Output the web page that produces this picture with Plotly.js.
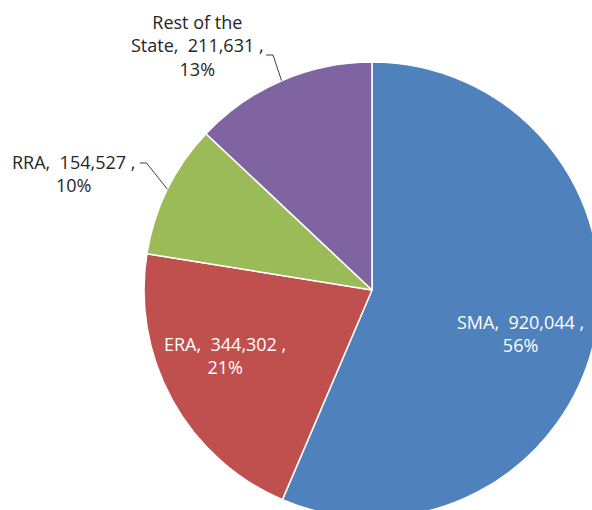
<!DOCTYPE html>
<html><head><meta charset="utf-8">
<script src="https://cdn.plot.ly/plotly-3.0.1.min.js"></script>
<style>html,body{margin:0;padding:0;overflow:hidden;background:#fff}#c{width:600px;height:520px}</style>
</head><body><div id="c"></div>
<script>
const regions = ["SMA", "ERA", "RRA", "Rest of the<br>State"];
const population = [920044, 344302, 154527, 211631];
const percentLabels = ["56%", "21%", "10%", "13%"];
const colors = ["#4F81BD", "#C0504D", "#9BBB59", "#8064A2"];

// layout constants (pixels in the 600x520 plot)
const W = 600, H = 520;
const pieBox = {x0: 144, x1: 600, y0: 62, y1: 518};
const labelPos = [[520, 333], [225, 355], [73, 174], [197, 45]];
const labelColor = ["#ffffff", "#ffffff", "#262626", "#262626"];
const leaderStart = [null, null, [140, 163], [266, 55]];
const leaderKnee = [null, null, [146.5, 163], [273, 55]];

const px = x => x / W, py = y => 1 - y / H;
const cx = (pieBox.x0 + pieBox.x1) / 2, cy = (pieBox.y0 + pieBox.y1) / 2;
const R = Math.min(pieBox.x1 - pieBox.x0, pieBox.y1 - pieBox.y0) / 2;
const total = population.reduce((a, b) => a + b, 0);

const annotations = [], shapes = [];
let cum = 0;
population.forEach((v, i) => {
  const mid = (cum + v / 2) / total * 2 * Math.PI; cum += v;
  const text = regions[i] + ",\u00a0 " + v.toLocaleString("en-US") + "\u00a0,<br>" + percentLabels[i];
  annotations.push({
    x: px(labelPos[i][0]), y: py(labelPos[i][1]), xref: "paper", yref: "paper",
    xanchor: "center", yanchor: "middle", showarrow: false, align: "center",
    text: text,
    font: {family: "Open Sans, sans-serif", size: 18, color: labelColor[i]}
  });
  if (leaderStart[i]) {
    const tx = cx + R * Math.sin(mid), ty = cy - R * Math.cos(mid);
    shapes.push({
      type: "path", xref: "paper", yref: "paper",
      path: `M ${px(leaderStart[i][0])},${py(leaderStart[i][1])} L ${px(leaderKnee[i][0])},${py(leaderKnee[i][1])} L ${px(tx)},${py(ty)}`,
      line: {color: "#404040", width: 1}
    });
  }
});

Plotly.newPlot("c", [{
  type: "pie",
  labels: regions,
  values: population,
  sort: false,
  direction: "clockwise",
  rotation: 0,
  marker: {colors: colors, line: {color: "#ffffff", width: 1.5}},
  textinfo: "none",
  domain: {x: [pieBox.x0 / W, pieBox.x1 / W], y: [py(pieBox.y1), py(pieBox.y0)]},
  hoverinfo: "none",
  automargin: false
}], {
  width: W, height: H,
  margin: {l: 0, r: 0, t: 0, b: 0},
  showlegend: false,
  paper_bgcolor: "#ffffff",
  annotations: annotations,
  shapes: shapes
}, {staticPlot: true});
</script></body></html>
